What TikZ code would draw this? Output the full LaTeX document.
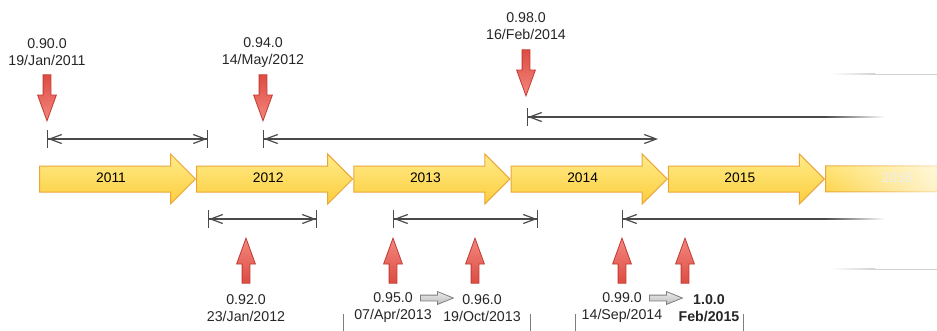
\documentclass[tikz,border=0pt]{standalone}
\usepackage{fontspec}
\setmainfont{Liberation Sans}
\usepackage{tikz}
\usetikzlibrary{shapes.arrows,positioning,calc,arrows.meta,fadings}
\usepackage{xcolor}

\definecolor{yeltop}{HTML}{FFEC8A}
\definecolor{yelbot}{HTML}{FCCD3C}
\definecolor{yelrim}{HTML}{EBA63A}
\definecolor{redlite}{HTML}{F3877E}
\definecolor{reddark}{HTML}{DD4C43}
\definecolor{redrim}{HTML}{C13A31}
\definecolor{grytop}{HTML}{EBEBEB}
\definecolor{grybot}{HTML}{BDBDBD}
\definecolor{gryrim}{HTML}{7E7E7E}
\definecolor{spanln}{HTML}{4A4A4A}
\definecolor{faintln}{HTML}{D2D2D2}

\tikzfading[name=fade right, left color=transparent!0,
  middle color=transparent!97, right color=transparent!100]

\tikzset{
  yearbox/.style={single arrow, single arrow head extend=12pt,
    minimum height=156pt, text height=9.5pt, text depth=2.5pt,
    inner ysep=6.5pt, inner xsep=4pt, anchor=tail,
    top color=yeltop, bottom color=yelbot, draw=yelrim, line width=1pt,
    font=\fontsize{13.8}{17}\selectfont},
  redptr/.style={single arrow, single arrow head extend=5.5pt,
    single arrow tip angle=40, inner xsep=0pt, inner ysep=3.5pt,
    draw=redrim, line width=0.8pt, anchor=tip},
  dnptr/.style={redptr, minimum height=46pt, rotate=-90,
    top color=reddark, bottom color=redlite},
  upptr/.style={redptr, minimum height=45pt, rotate=90,
    top color=redlite, bottom color=reddark},
  nextptr/.style={single arrow, single arrow head extend=3.5pt,
    single arrow tip angle=44, minimum height=33pt, inner xsep=0pt,
    inner ysep=2.5pt, top color=grytop, bottom color=grybot,
    draw=gryrim, line width=0.8pt, anchor=tail},
  ver/.style={align=center, inner sep=0pt, text=black!85,
    font=\fontsize{14.2}{17}\selectfont},
  verbold/.style={ver, font=\fontsize{14.2}{17}\selectfont\bfseries},
  span/.style={draw=spanln, line width=1.2pt},
  spanlr/.style={span, arrows={Bar[width=18pt,line width=1pt]Straight Barb[length=12pt,width=9pt]-Straight Barb[length=12pt,width=9pt]Bar[width=18pt,line width=1pt]}},
  spanl/.style={span, arrows={Bar[width=18pt,line width=1pt]Straight Barb[length=12pt,width=9pt]-}},
  spanlx/.style={span, arrows={Bar[width=18pt,line width=1pt]Straight Barb[length=12pt,width=9pt]-Straight Barb[length=12pt,width=9pt]}},
}

\begin{document}
\begin{tikzpicture}[x=1pt,y=-1pt]
  \useasboundingbox (0,0) rectangle (937,330);

  % 年份
  \node[yearbox] (y2011) at (39,179) {2011};
  \foreach \yr/\pr in {2012/2011,2013/2012,2014/2013,2015/2014}
    \node[yearbox] (y\yr) at (y\pr.tip) {\yr};
  \node[yearbox, path fading=fade right, text=black!7] (y2016) at (y2015.tip) {2016};

  % 上方版本
  \node[dnptr] (v090) at (47,122) {};
  \node[dnptr] (v094) at (263,122) {};
  \node[dnptr] (v098) at (526,97) {};
  \node[ver] (l090) at (47,52.5) {0.90.0\\19/Jan/2011};
  \node[ver] (l094) at (263,52.5) {0.94.0\\14/May/2012};
  \node[ver] (l098) at (526,26) {0.98.0\\16/Feb/2014};

  % 下方版本
  \node[upptr] (v092) at (246,237) {};
  \node[upptr] (v095) at (393,237) {};
  \node[upptr] (v096) at (475,237) {};
  \node[upptr] (v099) at (622,237) {};
  \node[upptr] (v100) at (685,237) {};
  \node[ver] (l092) at (246,308) {0.92.0\\23/Jan/2012};
  \node[ver] (l095) at (393,308) {0.95.0\\07/Apr/2013};
  \node[ver] (l096) at (482,308) {0.96.0\\19/Oct/2013};
  \node[ver] (l099) at (622,308) {0.99.0\\14/Sep/2014};
  \node[verbold] (l100) at (709,308) {1.0.0\\Feb/2015};
  \node[nextptr] (n095) at (420,298) {};
  \node[nextptr] (n099) at (649,298) {};

  % 区间
  \coordinate (a090) at (47,139);  \coordinate (b090) at (208,139);
  \coordinate (a094) at (263,139); \coordinate (b094) at (658,139);
  \coordinate (a098) at (527,117); \coordinate (b098) at (825,117);
  \coordinate (a092) at (208,219); \coordinate (b092) at (317,219);
  \coordinate (a095) at (393,219); \coordinate (b095) at (538,219);
  \coordinate (a099) at (622,219); \coordinate (b099) at (825,219);
  \draw[spanlr] (a090) -- (b090);
  \draw[spanlx] (a094) -- (b094);
  \draw[spanl] (a098) -- (b098);
  \draw[spanlr] (a092) -- (b092);
  \draw[spanlr] (a095) -- (b095);
  \draw[spanl] (a099) -- (b099);
  \shade[left color=spanln, right color=white] (825,116.4) rectangle (885,117.6);
  \shade[left color=spanln, right color=white] (825,218.4) rectangle (885,219.6);
  \shade[left color=white, right color=faintln] (830,73.5) rectangle (875,74.5);
  \fill[faintln] (875,73.5) rectangle (937,74.5);
  \shade[left color=white, right color=faintln] (830,268.5) rectangle (875,269.5);
  \fill[faintln] (875,268.5) rectangle (937,269.5);

  \foreach \x in {343,530,575,743}
    \draw[gryrim, line width=1pt] (\x,314) -- (\x,331);
\end{tikzpicture}
\end{document}
